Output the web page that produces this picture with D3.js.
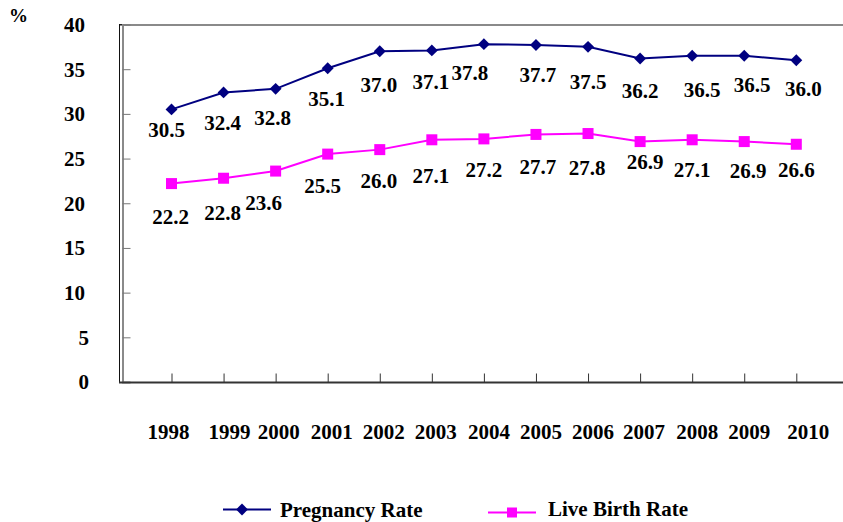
<!DOCTYPE html>
<meta charset="utf-8">
<head>
  <meta charset="utf-8">
  <script src="https://d3js.org/d3.v7.min.js"></script>
</head>
<body style="margin:0; background:#fff">
  <svg width="843" height="522"></svg>
  <script>
    // data
    var years = ["1998","1999","2000","2001","2002","2003","2004","2005","2006","2007","2008","2009","2010"];
    var pregnancyRate = [30.5, 32.4, 32.8, 35.1, 37.0, 37.1, 37.8, 37.7, 37.5, 36.2, 36.5, 36.5, 36.0];
    var liveBirthRate = [22.2, 22.8, 23.6, 25.5, 26.0, 27.1, 27.2, 27.7, 27.8, 26.9, 27.1, 26.9, 26.6];
    var yTicks = [0, 5, 10, 15, 20, 25, 30, 35, 40];

    // label nudges (dx, baseline dy) so labels sit like the original
    var pregLabelNudge = [[-5,28],[-1,38],[-3,36],[-1,38],[-1,41],[-1,39],[-14,36],[2,37],[0,42],[0,40],[10,41],[8,36],[7,36]];
    var liveLabelNudge = [[-1,40],[-1,42],[-12,39],[-5,39],[-1,38],[-1,43],[0,38],[2,40],[-1,41],[5,27],[0,37],[4,36],[0,33]];
    var yearNudge = [-3,6,3,4,4,4,5,5,5,4,5,5,12];

    var FONT = "'Liberation Serif', 'Times New Roman', serif";

    var svg = d3.select("svg");
    var x = d3.scalePoint().domain(years).range([171.5, 796.3]);
    var y = d3.scaleLinear().domain([0, 40]).range([382, 24.5]);

    function label(sel, size) {
      return sel.style("font-family", FONT).style("font-weight", "bold")
        .style("font-size", size + "px").attr("fill", "#000");
    }

    // frame: top border + left axis
    svg.append("line").attr("x1", 119).attr("x2", 843).attr("y1", 25).attr("y2", 25)
      .attr("stroke", "#8a8a8a").attr("stroke-width", 2);
    svg.append("line").attr("x1", 119).attr("x2", 130).attr("y1", 24.5).attr("y2", 24.5)
      .attr("stroke", "#222").attr("stroke-width", 1);
    svg.append("line").attr("x1", 119.5).attr("x2", 119.5).attr("y1", 24).attr("y2", 383)
      .attr("stroke", "#111").attr("stroke-width", 1);

    var yAxis = svg.append("g").attr("transform", "translate(122.5,0)")
      .call(d3.axisRight(y).tickValues(yTicks).tickSize(8).tickFormat(""));
    yAxis.select(".domain").attr("stroke", "#8a8a8a").attr("stroke-width", 2);
    yAxis.selectAll(".tick line").attr("stroke", "#777").attr("stroke-width", 1);

    label(svg.append("g").selectAll("text").data(yTicks).enter().append("text")
      .attr("x", function(d) { return d < 10 ? 89 : 85; })
      .attr("y", function(d) { return y(d); })
      .attr("dy", "0.35em")
      .attr("text-anchor", "end"), 21)
      .text(function(d) { return d; });

    label(svg.append("text").attr("x", 9).attr("y", 22), 19).text("%");

    // bottom axis, ticks pointing up
    var xAxis = svg.append("g").attr("transform", "translate(0,382.5)")
      .call(d3.axisTop(x).tickSize(9).tickFormat("").tickSizeOuter(0));
    xAxis.select(".domain").attr("d", "M119,0H843").attr("stroke", "#333").attr("stroke-width", 2);
    xAxis.selectAll(".tick line").attr("stroke", "#333").attr("stroke-width", 1);

    label(svg.append("g").selectAll("text").data(years).enter().append("text")
      .attr("x", function(d, i) { return x(d) + yearNudge[i]; })
      .attr("y", 439)
      .attr("text-anchor", "middle"), 21)
      .text(function(d) { return d; });

    var line = d3.line()
      .x(function(d, i) { return x(years[i]); })
      .y(function(d) { return y(d); });

    // pregnancy rate
    svg.append("path").datum(pregnancyRate).attr("d", line)
      .attr("fill", "none").attr("stroke", "#000080").attr("stroke-width", 2);
    svg.append("g").selectAll("path").data(pregnancyRate).enter().append("path")
      .attr("d", d3.symbol().type(d3.symbolDiamond2).size(90))
      .attr("transform", function(d, i) { return "translate(" + x(years[i]) + "," + y(d) + ")"; })
      .attr("fill", "#000080");

    // live birth rate
    svg.append("path").datum(liveBirthRate).attr("d", line)
      .attr("fill", "none").attr("stroke", "#ff00ff").attr("stroke-width", 2);
    svg.append("g").selectAll("rect").data(liveBirthRate).enter().append("rect")
      .attr("x", function(d, i) { return x(years[i]) - 5.5; })
      .attr("y", function(d) { return y(d) - 5.5; })
      .attr("width", 11).attr("height", 11)
      .attr("fill", "#ff00ff");

    // value labels
    label(svg.append("g").selectAll("text").data(pregnancyRate).enter().append("text")
      .attr("x", function(d, i) { return x(years[i]) + pregLabelNudge[i][0]; })
      .attr("y", function(d, i) { return y(d) + pregLabelNudge[i][1]; })
      .attr("text-anchor", "middle"), 21)
      .text(function(d) { return d.toFixed(1); });
    label(svg.append("g").selectAll("text").data(liveBirthRate).enter().append("text")
      .attr("x", function(d, i) { return x(years[i]) + liveLabelNudge[i][0]; })
      .attr("y", function(d, i) { return y(d) + liveLabelNudge[i][1]; })
      .attr("text-anchor", "middle"), 21)
      .text(function(d) { return d.toFixed(1); });

    // legend
    var legend = svg.append("g");
    legend.append("line").attr("x1", 223).attr("x2", 271).attr("y1", 509.5).attr("y2", 509.5)
      .attr("stroke", "#000080").attr("stroke-width", 2);
    legend.append("path").attr("d", d3.symbol().type(d3.symbolDiamond2).size(90))
      .attr("transform", "translate(242,509.5)").attr("fill", "#000080");
    label(legend.append("text").attr("x", 280).attr("y", 517), 21).text("Pregnancy Rate");

    legend.append("line").attr("x1", 488).attr("x2", 536).attr("y1", 512.5).attr("y2", 512.5)
      .attr("stroke", "#ff00ff").attr("stroke-width", 2);
    legend.append("rect").attr("x", 507).attr("y", 507.5).attr("width", 10).attr("height", 10)
      .attr("fill", "#ff00ff");
    label(legend.append("text").attr("x", 548).attr("y", 516), 21).text("Live Birth Rate");
  </script>
</body>
